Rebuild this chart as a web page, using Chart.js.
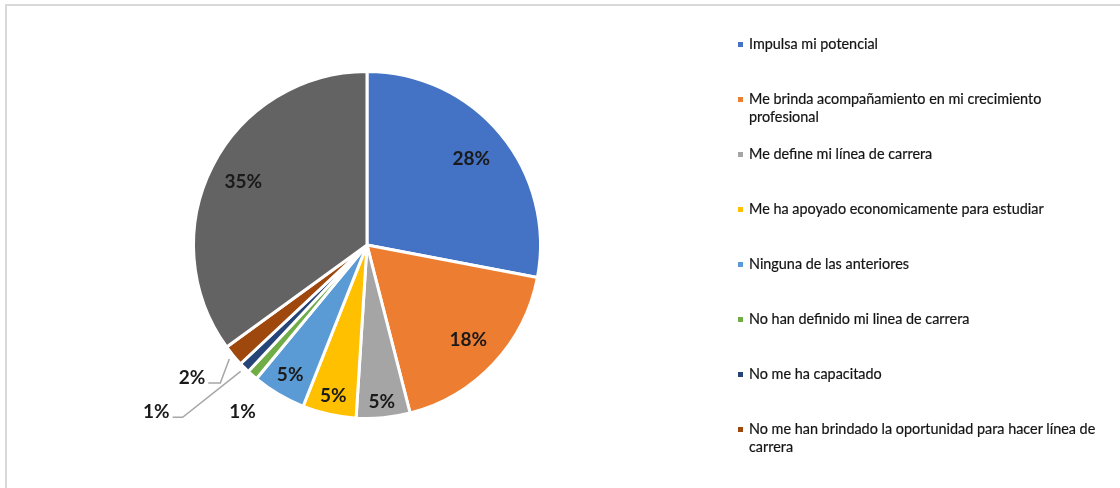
<!DOCTYPE html>
<html>
<head>
<meta charset="utf-8">
<script src="https://cdn.jsdelivr.net/npm/chart.js@4.4.1/dist/chart.umd.min.js"></script>
<style>
    html, body { margin: 0; padding: 0; background: #fff; }
    #wrap { position: relative; width: 1120px; height: 488px; overflow: hidden; }
    #frame {
        position: absolute; left: 5px; top: 4px; right: -10px; bottom: -10px;
        border-left: 2px solid #d9d9d9; border-top: 2px solid #d9d9d9;
    }
    #pie { position: absolute; left: 0; top: 0; }
    #legend {
        position: absolute; left: 738px; top: 35px; margin: 0; padding: 0; list-style: none;
        font-family: Lato, "Open Sans", sans-serif; font-size: 14.4px; color: #141414;
        -webkit-text-stroke: 0.2px #141414;
    }
    #legend li { position: relative; height: 55px; padding-left: 11px; width: 355px; line-height: 18px; }
    #legend li span.box {
        position: absolute; left: 0; top: 7px; width: 5px; height: 5px;
    }
</style>
</head>
<body>
<div id="wrap">
    <div id="frame"></div>
    <canvas id="pie" width="1120" height="488"></canvas>
    <ul id="legend"></ul>
</div>
<script>
// Survey answers and their shares (%)
const categories = [
    'Impulsa mi potencial',
    'Me brinda acompañamiento en mi crecimiento profesional',
    'Me define mi línea de carrera',
    'Me ha apoyado economicamente para estudiar',
    'Ninguna de las anteriores',
    'No han definido mi linea de carrera',
    'No me ha capacitado',
    'No me han brindado la oportunidad para hacer línea de carrera',
    ''
];
const shares = [28, 18, 5, 5, 5, 1, 1, 2, 35];
const colors = ['#4472C4', '#ED7D31', '#A5A5A5', '#FFC000', '#5B9BD5', '#70AD47', '#264478', '#9E480E', '#636363'];

// where each percentage label sits: radius factor, nudge, optional leader line
const labelSpots = [
    { f: 0.78 }, { f: 0.80 }, { f: 0.91 }, { f: 0.89 }, { f: 0.87 },
    { f: 1.19, dx: 12, dy: 12 },
    { f: 1.03, leader: [[-58, 46], [-68, 46]] },
    { f: 1.03, leader: [[-9, 24], [-21, 24]] },
    { f: 0.80 }
];

// percentage labels drawn on top of the slices
const sliceLabels = {
    id: 'sliceLabels',
    afterDatasetsDraw(chart) {
        const ctx = chart.ctx;
        const meta = chart.getDatasetMeta(0);
        ctx.save();
        ctx.font = 'bold 19px Lato, "Open Sans", sans-serif';
        ctx.fillStyle = '#1a1a1a';
        ctx.textBaseline = 'middle';
        meta.data.forEach((arc, i) => {
            const p = arc.getProps(['x', 'y', 'startAngle', 'endAngle', 'outerRadius'], true);
            const mid = (p.startAngle + p.endAngle) / 2;
            const spot = labelSpots[i];
            const x = p.x + Math.cos(mid) * p.outerRadius * spot.f + (spot.dx || 0);
            const y = p.y + Math.sin(mid) * p.outerRadius * spot.f + (spot.dy || 0);
            const text = shares[i] + '%';
            if (spot.leader) {
                const [a, b] = spot.leader;
                ctx.strokeStyle = '#a6a6a6';
                ctx.lineWidth = 1.5;
                ctx.beginPath();
                ctx.moveTo(x, y);
                ctx.lineTo(x + a[0], y + a[1]);
                ctx.lineTo(x + b[0], y + b[1]);
                ctx.stroke();
                ctx.textAlign = 'right';
                ctx.fillText(text, x + b[0] - 3, y + b[1] - 5);
            } else {
                ctx.textAlign = 'center';
                ctx.fillText(text, x, y);
            }
        });
        ctx.restore();
    }
};

new Chart(document.getElementById('pie'), {
    type: 'pie',
    data: {
        labels: categories,
        datasets: [{
            data: shares,
            backgroundColor: colors,
            borderColor: '#ffffff',
            borderWidth: 3,
        }],
    },
    options: {
        responsive: false,
        animation: false,
        layout: { padding: { left: 192, right: 578, top: 70, bottom: 68 } },
        plugins: {
            legend: { display: false },
            tooltip: { enabled: false },
        },
    },
    plugins: [sliceLabels],
});

// legend on the right (last slice has no entry)
const legend = document.getElementById('legend');
categories.forEach((name, i) => {
    if (!name) return;
    const li = document.createElement('li');
    const box = document.createElement('span');
    box.className = 'box';
    box.style.background = colors[i];
    li.appendChild(box);
    li.appendChild(document.createTextNode(name));
    legend.appendChild(li);
});
</script>
</body>
</html>
